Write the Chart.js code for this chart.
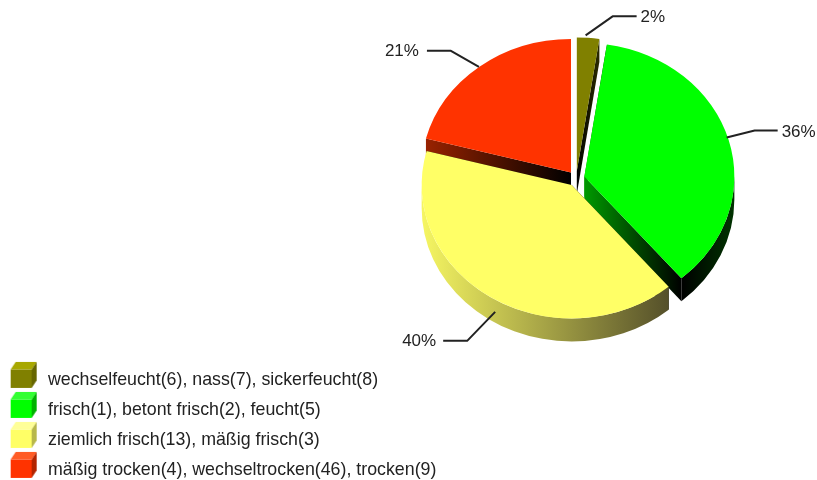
<!DOCTYPE html>
<html><head><meta charset="utf-8">
<style>html,body{margin:0;padding:0;background:#fff}canvas{display:block}</style>
<script src="https://cdn.jsdelivr.net/npm/chart.js@4/dist/chart.umd.min.js"></script>
</head><body>
<canvas id="c" width="817" height="480"></canvas>
<script>
const categories = [
  'wechselfeucht(6), nass(7), sickerfeucht(8)',
  'frisch(1), betont frisch(2), feucht(5)',
  'ziemlich frisch(13), mäßig frisch(3)',
  'mäßig trocken(4), wechseltrocken(46), trocken(9)'
];
const shares = [2.4, 36.4, 40.3, 20.9];
const topColors = ['#808000', '#00ff00', '#ffff66', '#ff3300'];
const cubeTop = ['#a8a800', '#33ff33', '#ffff99', '#ff5c26'];
const cubeSide = ['#666600', '#00b300', '#b8b84a', '#b32400'];
const rimStops = [['#000000','#000000'], ['#000000','#003300'], ['#f6f662','#55502a'], ['#000000','#000000']];
const cutStops = [['#000000','#2a2a00'], ['#009900','#000000'], ['#000000','#000000'], ['#992200','#000000']];
const paintOrder = [3, 0, 1, 2];
const leaderBend = [[27,-19,24],[28,-7,23],[-28,29,-24],[-28,-16,-24]];
const leaderNudge = [[-2.5,-2.5],[-2,-2.5],[3.5,14],[-0.5,0]];
const labelGap = [4, 4, 7, 8];
const labelDrop = [1, 1.5, 0, 1];
const K = 0.89, DEPTH = 23, EXPLODE = 8.5, LIFT = 123, LEGEND_DROP = 11;
const FONT = '17px "Liberation Sans", Arial, sans-serif', INK = '#222222';

function cube(i){
  const c = document.createElement('canvas'); c.width = 40; c.height = 40;
  const g = c.getContext('2d');
  const x = 5, y = 9.5, w = 21, h = 18.5, dx = 5, dy = 7.5;
  g.fillStyle = topColors[i]; g.fillRect(x, y, w, h);
  g.fillStyle = cubeTop[i];
  g.beginPath(); g.moveTo(x,y); g.lineTo(x+dx,y-dy); g.lineTo(x+w+dx,y-dy); g.lineTo(x+w,y); g.closePath(); g.fill();
  g.fillStyle = cubeSide[i];
  g.beginPath(); g.moveTo(x+w,y); g.lineTo(x+w+dx,y-dy); g.lineTo(x+w+dx,y+h-dy); g.lineTo(x+w,y+h); g.closePath(); g.fill();
  return c;
}

function geo(arc){
  return {x: arc.x, y: arc.y, r: arc.outerRadius, s: arc.startAngle, e: arc.endAngle, mid: (arc.startAngle + arc.endAngle) / 2};
}
const pie3d = {
  id: 'pie3d',
  afterLayout(chart){
    chart.chartArea.bottom -= LIFT;
    chart.legend.bottom += LEGEND_DROP;
  },
  afterDatasetsUpdate(chart){
    chart.getDatasetMeta(0).data.forEach(a => {
      const mid = (a.startAngle + a.endAngle) / 2;
      a.x += Math.cos(mid) * EXPLODE;
      a.y += Math.sin(mid) * EXPLODE;
    });
  },
  beforeDatasetsDraw(chart){
    const ctx = chart.ctx, meta = chart.getDatasetMeta(0);
    const cy = (chart.chartArea.top + chart.chartArea.bottom) / 2, dz = DEPTH / K;
    const enter = () => { ctx.save(); ctx.translate(0, cy); ctx.scale(1, K); ctx.translate(0, -cy); };
    enter();
    paintOrder.forEach(i => {
      const g = geo(meta.data[i]);
      [g.s, g.e].forEach(ang => {
        const rx = g.x + Math.cos(ang) * g.r, ry = g.y + Math.sin(ang) * g.r;
        const gr = ctx.createLinearGradient(Math.min(rx, g.x), 0, Math.max(rx, g.x) + 0.01, 0);
        gr.addColorStop(0, cutStops[i][0]); gr.addColorStop(1, cutStops[i][1]);
        ctx.fillStyle = gr;
        ctx.beginPath(); ctx.moveTo(g.x, g.y); ctx.lineTo(rx, ry); ctx.lineTo(rx, ry + dz); ctx.lineTo(g.x, g.y + dz); ctx.closePath(); ctx.fill();
      });
      const from = Math.max(g.s, 0), to = Math.min(g.e, Math.PI);
      if (to > from) {
        const xl = g.x + g.r * Math.cos(to), xr = g.x + g.r * Math.cos(from);
        const gr = ctx.createLinearGradient(xl, 0, xr, 0);
        gr.addColorStop(0, rimStops[i][0]); gr.addColorStop(1, rimStops[i][1]);
        ctx.fillStyle = gr;
        ctx.beginPath();
        ctx.arc(g.x, g.y, g.r, from, to);
        ctx.lineTo(g.x + g.r * Math.cos(to), g.y + g.r * Math.sin(to) + dz);
        ctx.arc(g.x, g.y + dz, g.r, to, from, true);
        ctx.closePath(); ctx.fill();
      }
    });
    ctx.restore();
    enter();
  },
  afterDatasetsDraw(chart){
    const ctx = chart.ctx, meta = chart.getDatasetMeta(0);
    ctx.restore();
    const cy = (chart.chartArea.top + chart.chartArea.bottom) / 2;
    meta.data.forEach((a, i) => {
      const g = geo(a);
      const ax = g.x + g.r * Math.cos(g.mid) + leaderNudge[i][0];
      const ay = cy + K * (g.y - cy + g.r * Math.sin(g.mid)) + leaderNudge[i][1];
      const [bx, by, run] = leaderBend[i];
      ctx.strokeStyle = INK; ctx.lineWidth = 2; ctx.lineJoin = 'round';
      ctx.beginPath(); ctx.moveTo(ax, ay); ctx.lineTo(ax + bx, ay + by); ctx.lineTo(ax + bx + run, ay + by); ctx.stroke();
      ctx.fillStyle = INK; ctx.font = FONT; ctx.textBaseline = 'middle';
      ctx.textAlign = run > 0 ? 'left' : 'right';
      ctx.fillText(Math.round(shares[i]) + '%', ax + bx + run + (run > 0 ? labelGap[i] : -labelGap[i]), ay + by + labelDrop[i]);
    });
  }
};

new Chart(document.getElementById('c'), {
  type: 'pie',
  data: { labels: categories, datasets: [{ data: shares, backgroundColor: topColors, borderWidth: 0, clip: false }] },
  plugins: [pie3d],
  options: {
    responsive: false, animation: false, radius: 150,
    layout: { padding: { top: 0, left: 0, right: 111, bottom: 0 } },
    events: [],
    plugins: {
      tooltip: { enabled: false },
      legend: {
        position: 'left', align: 'end', maxWidth: 480,
        labels: {
          padding: 12.2, usePointStyle: true, pointStyleWidth: 26.9, color: INK,
          font: { family: '"Liberation Sans", Arial, sans-serif', size: 17.8 },
          generateLabels: () => categories.map((t, i) => ({ text: t, pointStyle: cube(i), fillStyle: topColors[i], strokeStyle: topColors[i], lineWidth: 0, hidden: false, index: i, fontColor: INK }))
        }
      }
    }
  }
});
</script>
</body></html>
